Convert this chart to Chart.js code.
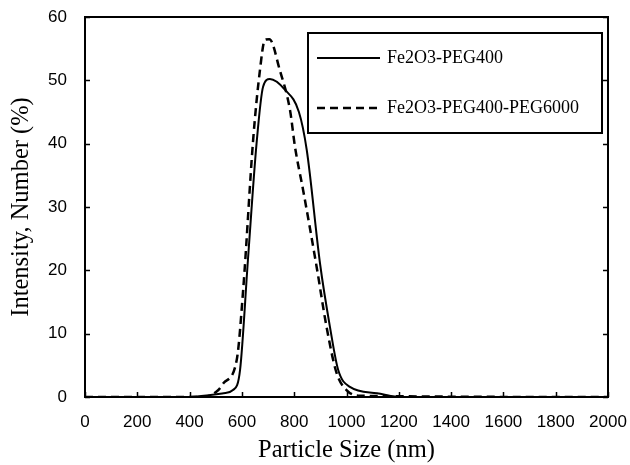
<!DOCTYPE html>
<html>
<head>
<meta charset="utf-8">
<script src="https://cdn.jsdelivr.net/npm/chart.js@4"></script>
<style>
  html, body { margin: 0; padding: 0; background: #fff; }
  #wrap { width: 630px; height: 465px; }
</style>
</head>
<body>
<div id="wrap"><canvas id="sizeChart" width="630" height="465"></canvas></div>
<script>
// particle size (nm) and number intensity (%)
const sizesPeg400 = [0, 400, 480, 530, 566, 593, 623, 656, 681, 707, 765, 818, 848, 899, 937, 968, 1013, 1117, 1200, 2000];
const valuesPeg400 = [0, 0, 0.3, 0.6, 1.1, 4.3, 21.6, 40, 49, 50.2, 48.5, 45, 39, 21, 11, 4.3, 1.6, 0.6, 0, 0];

const sizesPeg6000 = [0, 450, 510, 530, 580, 605, 643, 669, 688, 705, 745, 784, 803, 834, 886, 924, 962, 1000, 1050, 2000];
const valuesPeg6000 = [0, 0, 1.1, 2.2, 5.8, 17, 40.6, 51.6, 56.4, 56.5, 51.6, 45.3, 39.5, 32.7, 20.5, 11, 3.8, 1.1, 0.2, 0];

const seriesLabels = ['Fe2O3-PEG400', 'Fe2O3-PEG400-PEG6000'];
const xTicks = [0, 200, 400, 600, 800, 1000, 1200, 1400, 1600, 1800, 2000];
const yTicks = [0, 10, 20, 30, 40, 50, 60];

const toPoints = (xs, ys) => xs.map((x, i) => ({ x: x, y: ys[i] }));

// frame + inward tick marks + boxed legend
const framePlugin = {
    id: 'frame',
    afterDatasetsDraw(chart) {
        const ctx = chart.ctx;
        const a = chart.chartArea;
        const xs = chart.scales.x, ys = chart.scales.y;
        ctx.save();
        ctx.strokeStyle = '#000';
        ctx.lineWidth = 2;
        ctx.strokeRect(a.left, a.top, a.right - a.left, a.bottom - a.top);
        ctx.lineWidth = 1.5;
        ctx.beginPath();
        xTicks.forEach(v => {
            const px = Math.round(xs.getPixelForValue(v)) + 0.5;
            ctx.moveTo(px, a.bottom);
            ctx.lineTo(px, a.bottom - 5);
        });
        yTicks.forEach(v => {
            const py = Math.round(ys.getPixelForValue(v)) + 0.5;
            ctx.moveTo(a.left, py);
            ctx.lineTo(a.left + 5, py);
            ctx.moveTo(a.right, py);
            ctx.lineTo(a.right - 5, py);
        });
        ctx.stroke();

        // legend box
        const bx = 308, by = 33, bw = 294, bh = 100;
        ctx.fillStyle = '#fff';
        ctx.fillRect(bx, by, bw, bh);
        ctx.lineWidth = 2;
        ctx.strokeRect(bx, by, bw, bh);
        ctx.font = '18px "Liberation Serif", serif';
        ctx.textBaseline = 'middle';
        ctx.fillStyle = '#000';
        chart.data.datasets.forEach((ds, i) => {
            const y = by + 25 + i * 50;
            ctx.beginPath();
            ctx.lineWidth = ds.borderWidth;
            ctx.setLineDash(ds.borderDash || []);
            ctx.moveTo(bx + 9, y);
            ctx.lineTo(bx + 72, y);
            ctx.stroke();
            ctx.setLineDash([]);
            ctx.fillText(ds.label, bx + 79, y);
        });
        ctx.restore();
    }
};

const ctx = document.getElementById('sizeChart').getContext('2d');
new Chart(ctx, {
    type: 'line',
    data: {
        datasets: [{
            label: seriesLabels[0],
            data: toPoints(sizesPeg400, valuesPeg400),
            borderColor: '#000',
            borderWidth: 2,
            pointRadius: 0,
            cubicInterpolationMode: 'monotone'
        }, {
            label: seriesLabels[1],
            data: toPoints(sizesPeg6000, valuesPeg6000),
            borderColor: '#000',
            borderWidth: 2.5,
            borderDash: [8, 5],
            pointRadius: 0,
            cubicInterpolationMode: 'monotone'
        }]
    },
    options: {
        responsive: false,
        animation: false,
        layout: { padding: { top: 17, right: 22, left: 0, bottom: 0 } },
        plugins: {
            legend: { display: false },
            tooltip: { enabled: false }
        },
        scales: {
            x: {
                type: 'linear',
                min: 0,
                max: 2000,
                afterBuildTicks: s => { s.ticks = xTicks.map(v => ({ value: v })); },
                afterFit: s => { s.height = 68; s.paddingLeft = 0; s.paddingRight = 0; },
                grid: { display: false, drawTicks: false },
                border: { display: false },
                ticks: {
                    color: '#000',
                    padding: 15,
                    maxRotation: 0,
                    callback: v => String(v),
                    font: { family: '"Liberation Sans", sans-serif', size: 17 }
                },
                title: {
                    display: true,
                    text: 'Particle Size (nm)',
                    color: '#000',
                    padding: { top: 4, bottom: 0 },
                    font: { family: '"Liberation Serif", serif', size: 24.5 }
                }
            },
            y: {
                min: 0,
                max: 60,
                afterBuildTicks: s => { s.ticks = yTicks.map(v => ({ value: v })); },
                afterFit: s => { s.width = 85; s.paddingTop = 0; s.paddingBottom = 0; },
                grid: { display: false, drawTicks: false },
                border: { display: false },
                ticks: {
                    color: '#000',
                    padding: 18,
                    callback: v => String(v),
                    font: { family: '"Liberation Sans", sans-serif', size: 17 }
                },
                title: {
                    display: true,
                    text: 'Intensity, Number (%)',
                    color: '#000',
                    padding: { top: 7, bottom: 0 },
                    font: { family: '"Liberation Serif", serif', size: 24.5 }
                }
            }
        }
    },
    plugins: [framePlugin]
});
</script>
</body>
</html>
